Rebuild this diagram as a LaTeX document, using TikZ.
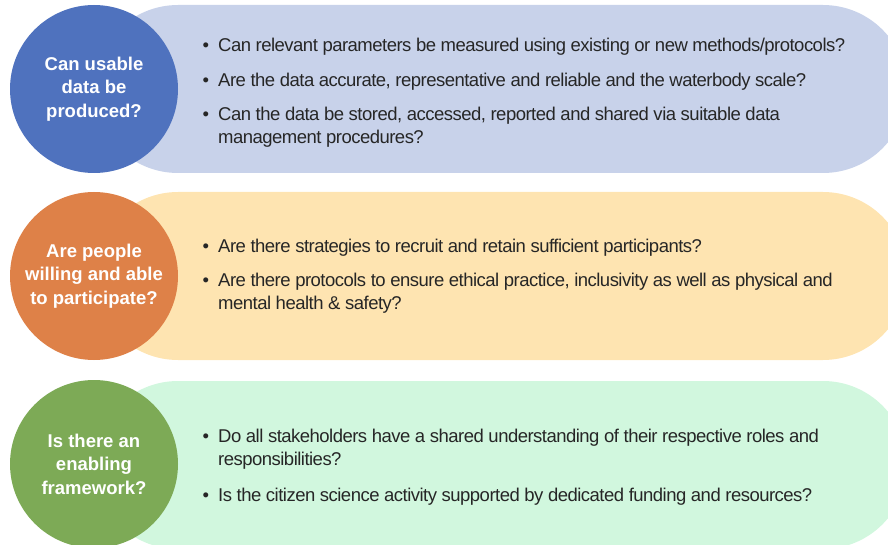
\documentclass[tikz,border=0pt]{standalone}
\usepackage{fontspec}
\setmainfont{Liberation Sans}
\newfontfamily\bodyfont[LetterSpace=-2.8]{Liberation Sans}

\definecolor{qblue}{RGB}{79,114,190}
\definecolor{bandblue}{RGB}{200,210,234}
\definecolor{qorange}{RGB}{222,129,72}
\definecolor{bandorange}{RGB}{254,228,177}
\definecolor{qgreen}{RGB}{125,170,86}
\definecolor{bandgreen}{RGB}{209,247,222}
\definecolor{ink}{RGB}{38,38,38}

\newcommand\bul{\makebox[0pt][r]{\textbullet\hspace{9pt}}}

\tikzset{
  band/.style={rounded corners=84pt},
  question/.style={circle, minimum size=168pt, inner sep=0pt, text=white,
    align=center, font=\fontsize{18.5}{23.5}\selectfont\bfseries},
  % anchored at the baseline of the item's last line
  item/.style={anchor=base west, inner sep=0pt, align=left, text=ink,
    font=\bodyfont\fontsize{18.5}{23.3}\selectfont},
}

\begin{document}
\begin{tikzpicture}[x=1pt,y=-1pt]
  \useasboundingbox (0,0) rectangle (888,545);
  \clip (0,0) rectangle (888,545);

  % coloured bands behind each question
  \fill[band, bandblue]   (94,5)   rectangle (907,173);
  \fill[band, bandorange] (94,192) rectangle (907,360);
  \fill[band, bandgreen]  (94,381) rectangle (907,549);

  % questions
  \node[question, fill=qblue]   (q1) at (94,89)  {Can usable\\data be\\produced?};
  \node[question, fill=qorange] (q2) at (94,276) {Are people\\willing and able\\to participate?};
  \node[question, fill=qgreen]  (q3) at (94,464) {Is there an\\enabling\\framework?};

  % sub-questions
  \node[item] (a1) at (218,52)  {\bul Can relevant parameters be measured using existing or new methods/protocols?};
  \node[item] (a2) at (218,86.5) {\bul Are the data accurate, representative and reliable and the waterbody scale?};
  \node[item] (a3) at (218,143.5) {\bul Can the data be stored, accessed, reported and shared via suitable data\\management procedures?};

  \node[item] (b1) at (218,252) {\bul Are there strategies to recruit and retain sufficient participants?};
  \node[item] (b2) at (218,309.5) {\bul Are there protocols to ensure ethical practice, inclusivity as well as physical and\\mental health \& safety?};

  \node[item] (c1) at (218,465.5) {\bul Do all stakeholders have a shared understanding of their respective roles and\\responsibilities?};
  \node[item] (c2) at (218,501) {\bul Is the citizen science activity supported by dedicated funding and resources?};
\end{tikzpicture}
\end{document}
